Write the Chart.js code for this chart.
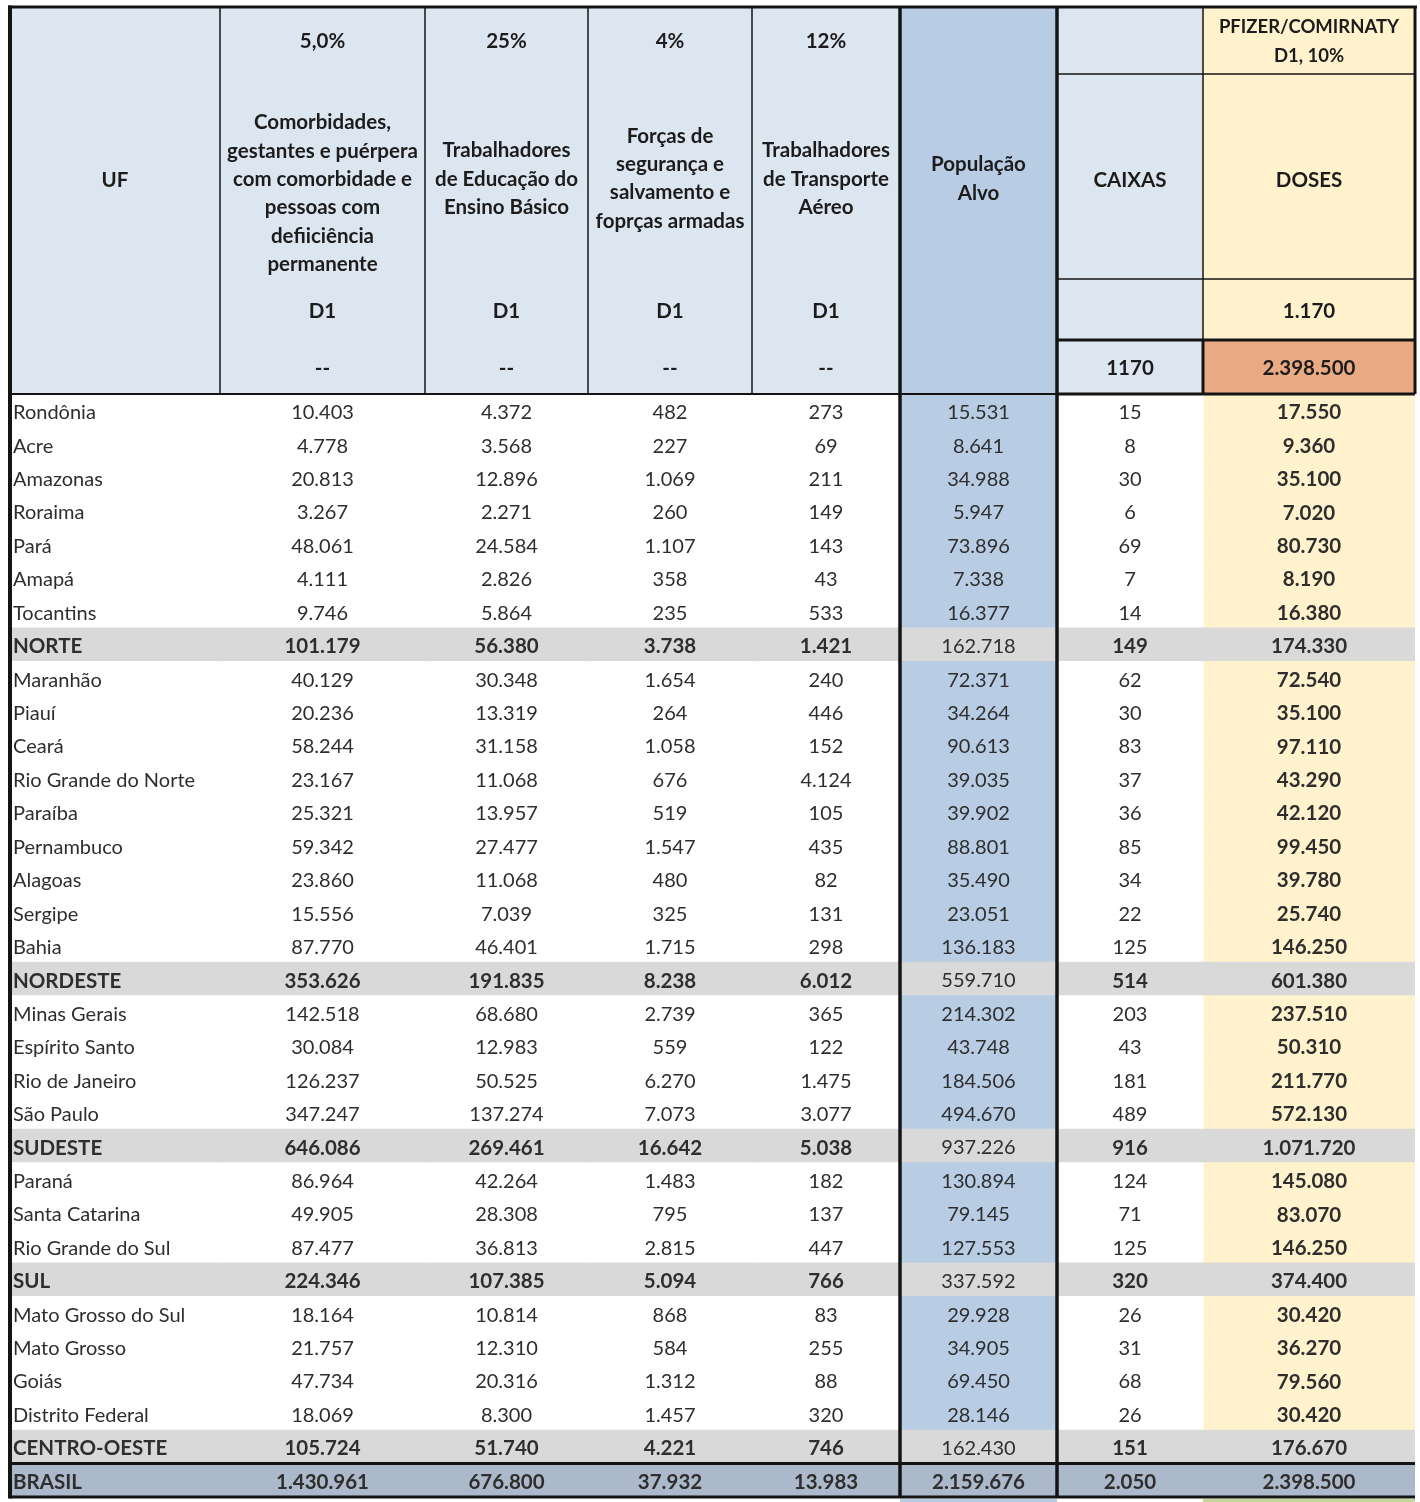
<!DOCTYPE html>
<html lang="pt-BR">
<head>
<meta charset="utf-8">
<title>Distribuição Pfizer/Comirnaty D1 por UF</title>
<script src="https://cdn.jsdelivr.net/npm/chart.js@4.4.1/dist/chart.umd.min.js"></script>
<style>
  html, body { margin: 0; padding: 0; background: #fff; }
  #wrap { width: 1420px; height: 1502px; }
</style>
</head>
<body>
<div id="wrap"><canvas id="tabela" width="1420" height="1502"></canvas></div>
<script>
// --- dados ---
const ufs = [
  'Rondônia', 'Acre', 'Amazonas', 'Roraima', 'Pará', 'Amapá', 'Tocantins', 'NORTE',
  'Maranhão', 'Piauí', 'Ceará', 'Rio Grande do Norte', 'Paraíba', 'Pernambuco', 'Alagoas', 'Sergipe', 'Bahia', 'NORDESTE',
  'Minas Gerais', 'Espírito Santo', 'Rio de Janeiro', 'São Paulo', 'SUDESTE',
  'Paraná', 'Santa Catarina', 'Rio Grande do Sul', 'SUL',
  'Mato Grosso do Sul', 'Mato Grosso', 'Goiás', 'Distrito Federal', 'CENTRO-OESTE',
  'BRASIL'
];
const regioes = ['NORTE', 'NORDESTE', 'SUDESTE', 'SUL', 'CENTRO-OESTE'];
const totalGeral = 'BRASIL';

const comorbidades = [10403, 4778, 20813, 3267, 48061, 4111, 9746, 101179,
  40129, 20236, 58244, 23167, 25321, 59342, 23860, 15556, 87770, 353626,
  142518, 30084, 126237, 347247, 646086,
  86964, 49905, 87477, 224346,
  18164, 21757, 47734, 18069, 105724,
  1430961];
const educacao = [4372, 3568, 12896, 2271, 24584, 2826, 5864, 56380,
  30348, 13319, 31158, 11068, 13957, 27477, 11068, 7039, 46401, 191835,
  68680, 12983, 50525, 137274, 269461,
  42264, 28308, 36813, 107385,
  10814, 12310, 20316, 8300, 51740,
  676800];
const forcasSeguranca = [482, 227, 1069, 260, 1107, 358, 235, 3738,
  1654, 264, 1058, 676, 519, 1547, 480, 325, 1715, 8238,
  2739, 559, 6270, 7073, 16642,
  1483, 795, 2815, 5094,
  868, 584, 1312, 1457, 4221,
  37932];
const transporteAereo = [273, 69, 211, 149, 143, 43, 533, 1421,
  240, 446, 152, 4124, 105, 435, 82, 131, 298, 6012,
  365, 122, 1475, 3077, 5038,
  182, 137, 447, 766,
  83, 255, 88, 320, 746,
  13983];
const populacaoAlvo = [15531, 8641, 34988, 5947, 73896, 7338, 16377, 162718,
  72371, 34264, 90613, 39035, 39902, 88801, 35490, 23051, 136183, 559710,
  214302, 43748, 184506, 494670, 937226,
  130894, 79145, 127553, 337592,
  29928, 34905, 69450, 28146, 162430,
  2159676];
const caixas = [15, 8, 30, 6, 69, 7, 14, 149,
  62, 30, 83, 37, 36, 85, 34, 22, 125, 514,
  203, 43, 181, 489, 916,
  124, 71, 125, 320,
  26, 31, 68, 26, 151,
  2050];
const doses = [17550, 9360, 35100, 7020, 80730, 8190, 16380, 174330,
  72540, 35100, 97110, 43290, 42120, 99450, 39780, 25740, 146250, 601380,
  237510, 50310, 211770, 572130, 1071720,
  145080, 83070, 146250, 374400,
  30420, 36270, 79560, 30420, 176670,
  2398500];

// cabeçalho
const headerPercent = ['5,0%', '25%', '4%', '12%'];
const headerDescricao = [
  ['Comorbidades,', 'gestantes e puérpera', 'com comorbidade e', 'pessoas com', 'defiiciência', 'permanente'],
  ['Trabalhadores', 'de Educação do', 'Ensino Básico'],
  ['Forças de', 'segurança e', 'salvamento e', 'foprças armadas'],
  ['Trabalhadores', 'de Transporte', 'Aéreo']
];
const headerDose = 'D1';
const headerVazio = '--';
const headerUF = 'UF';
const headerPopulacao = ['População', 'Alvo'];
const headerVacina = ['PFIZER/COMIRNATY', 'D1, 10%'];
const headerCaixas = 'CAIXAS';
const headerDoses = 'DOSES';
const dosesPorCaixa = 1170;
const caixasTotal = '1170';
const dosesTotal = 2398500;

// --- layout ---
const colunas = [ufs, comorbidades, educacao, forcasSeguranca, transporteAereo, populacaoAlvo, caixas, doses];
const bordas = [0, 210, 415, 578, 742, 890, 1047, 1193, 1405];
const HEAD = { top: 7, vac: 74, sub: 279, tot: 340, pct: 41, dose: 311, vazio: 368, linha: 28.3 };
const FONT = 'Lato, "Open Sans", sans-serif';
const COR = {
  head: '#dce6f1', pop: '#b8cce4', creme: '#fff2cc', laranja: '#eaaa84',
  regiao: '#d9d9d9', brasil: '#acb9ca', branco: '#ffffff', verde: '#c4d79b',
  texto: '#2e2e2e', titulo: '#1c1c1c', linha: '#141414'
};

const fmt = n => String(n).replace(/\B(?=(\d{3})+(?!\d))/g, '.');
const tipo = i => ufs[i] === totalGeral ? 'brasil' : (regioes.includes(ufs[i]) ? 'regiao' : 'uf');

function corCelula(c, i) {
  const t = tipo(i);
  if (t === 'brasil') return COR.brasil;
  if (t === 'regiao') return COR.regiao;
  if (c === 5) return COR.pop;
  if (c === 7) return COR.creme;
  return COR.branco;
}

function negrito(c, i) {
  const t = tipo(i);
  if (t === 'brasil' || c === 7) return true;
  if (t === 'regiao') return c !== 5;
  return false;
}

function linha(ctx, x1, y1, x2, y2, w) {
  ctx.save();
  ctx.strokeStyle = COR.linha;
  ctx.lineWidth = w;
  ctx.beginPath();
  ctx.moveTo(x1, y1);
  ctx.lineTo(x2, y2);
  ctx.stroke();
  ctx.restore();
}

function texto(ctx, s, x, y, bold, cor, align, size) {
  ctx.font = (bold ? 'bold ' : '') + (size || (bold ? 20.5 : 20)) + 'px ' + FONT;
  ctx.fillStyle = cor;
  ctx.textAlign = align || 'center';
  ctx.textBaseline = 'middle';
  ctx.fillText(s, x, y);
}

const tabelaPlugin = {
  id: 'tabela',
  beforeDatasetsDraw(chart) {
    const { ctx, chartArea } = chart;
    const x = chart.scales.x;
    const px = v => x.getPixelForValue(v);
    const fundo = [COR.head, COR.head, COR.head, COR.head, COR.head, COR.pop, COR.head, COR.creme];
    fundo.forEach((cor, c) => {
      ctx.fillStyle = cor;
      ctx.fillRect(px(bordas[c]), HEAD.top, px(bordas[c + 1]) - px(bordas[c]), chartArea.top - HEAD.top);
    });
    ctx.fillStyle = COR.laranja;
    ctx.fillRect(px(bordas[7]), HEAD.tot, px(bordas[8]) - px(bordas[7]), chartArea.top - HEAD.tot);
    // faixa abaixo da tabela
    ctx.fillStyle = COR.pop;
    ctx.fillRect(px(bordas[5]), chartArea.bottom + 2, px(bordas[6]) - px(bordas[5]), 10);
    ctx.fillStyle = COR.verde;
    ctx.fillRect(px(bordas[7]), chartArea.bottom + 2, px(bordas[8]) - px(bordas[7]), 10);
  },
  afterDatasetsDraw(chart) {
    const { ctx, chartArea } = chart;
    const x = chart.scales.x;
    const px = v => x.getPixelForValue(v);
    const mid = c => (px(bordas[c]) + px(bordas[c + 1])) / 2;

    // células
    chart.data.datasets.forEach((ds, c) => {
      chart.getDatasetMeta(c).data.forEach((bar, i) => {
        const s = c === 0 ? ufs[i] : fmt(colunas[c][i]);
        const b = negrito(c, i);
        if (c === 0) texto(ctx, s, Math.min(bar.x, bar.base) + 3, bar.y + 2, b, COR.texto, 'left');
        else texto(ctx, s, (bar.x + bar.base) / 2, bar.y + 2, b, COR.texto);
      });
    });

    // cabeçalho
    texto(ctx, headerUF, mid(0), 180, true, COR.titulo);
    const centros = [193.5, 179, 178.5, 179];
    headerDescricao.forEach((linhas, k) => {
      const c = k + 1;
      texto(ctx, headerPercent[k], mid(c), HEAD.pct, true, COR.titulo);
      const y0 = centros[k] - (linhas.length - 1) * HEAD.linha / 2;
      linhas.forEach((l, j) => texto(ctx, l, mid(c), y0 + j * HEAD.linha, true, COR.titulo));
      texto(ctx, headerDose, mid(c), HEAD.dose, true, COR.titulo);
      texto(ctx, headerVazio, mid(c), HEAD.vazio, true, COR.titulo);
    });
    headerPopulacao.forEach((l, j) => texto(ctx, l, mid(5), 164 + j * 29, true, COR.titulo));
    texto(ctx, headerVacina[0], mid(7), 27, true, COR.titulo, 'center', 18.5);
    texto(ctx, headerVacina[1], mid(7), 56, true, COR.titulo, 'center', 18.5);
    texto(ctx, headerCaixas, mid(6), 180, true, COR.titulo);
    texto(ctx, headerDoses, mid(7), 180, true, COR.titulo);
    texto(ctx, fmt(dosesPorCaixa), mid(7), HEAD.dose, true, COR.titulo);
    texto(ctx, caixasTotal, mid(6), HEAD.vazio, true, COR.titulo);
    texto(ctx, fmt(dosesTotal), mid(7), HEAD.vazio, true, COR.titulo);

    // bordas
    const L = px(bordas[0]), R = px(bordas[8]), T = chartArea.top, B = chartArea.bottom;
    for (let c = 1; c <= 4; c++) linha(ctx, px(bordas[c]), HEAD.top, px(bordas[c]), T, 1.5);
    linha(ctx, px(bordas[7]), HEAD.top, px(bordas[7]), HEAD.tot, 1.5);
    linha(ctx, px(bordas[7]), HEAD.tot, px(bordas[7]), T, 3);
    linha(ctx, px(bordas[6]), HEAD.vac, R, HEAD.vac, 1.5);
    linha(ctx, px(bordas[6]), HEAD.sub, R, HEAD.sub, 1.5);
    linha(ctx, px(bordas[6]), HEAD.tot, R, HEAD.tot, 3);
    linha(ctx, L, T, px(bordas[6]), T, 2);
    linha(ctx, px(bordas[6]), T, R, T, 3);
    linha(ctx, L - 2, HEAD.top, R + 2, HEAD.top, 3);
    linha(ctx, R, HEAD.top, R, T, 3);

    const meta = chart.getDatasetMeta(0);
    const ult = meta.data[meta.data.length - 1];
    const yBr = ult.y - ult.height / 2;
    linha(ctx, L, yBr, R, yBr, 3);
    linha(ctx, L, B, R, B, 3);
    linha(ctx, px(bordas[5]), HEAD.top, px(bordas[5]), B, 3.5);
    linha(ctx, px(bordas[6]), HEAD.top, px(bordas[6]), B, 3.5);
    linha(ctx, L, HEAD.top - 1.5, L, B + 1.5, 4);
  }
};

const datasets = colunas.map((col, c) => ({
  label: c === 0 ? 'UF' : 'col' + c,
  data: ufs.map(() => [bordas[c], bordas[c + 1]]),
  backgroundColor: ctx => corCelula(c, ctx.dataIndex),
  borderWidth: 0,
  inflateAmount: 0.5,
  grouped: false,
  barPercentage: 1,
  categoryPercentage: 1
}));

new Chart(document.getElementById('tabela'), {
  type: 'bar',
  data: { labels: ufs, datasets },
  options: {
    indexAxis: 'y',
    responsive: false,
    animation: false,
    events: [],
    layout: { padding: { left: 10, right: 5, top: 394, bottom: 5 } },
    scales: {
      x: { type: 'linear', min: 0, max: bordas[bordas.length - 1], display: false },
      y: { type: 'category', display: false }
    },
    plugins: { legend: { display: false }, tooltip: { enabled: false } }
  },
  plugins: [tabelaPlugin]
});
</script>
</body>
</html>
